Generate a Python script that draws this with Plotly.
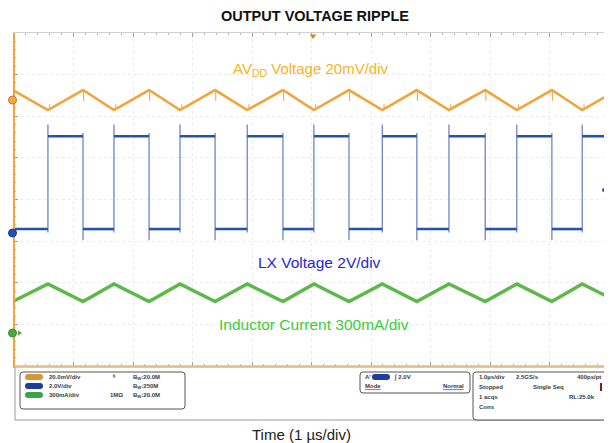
import plotly.graph_objects as go

# ---------------- data ----------------
# time in µs (1 µs/div, 10 divisions); vertical in divisions (0 = bottom, 8 = top)
t_rise = [0.57, 1.68, 2.79, 3.92, 5.04, 6.19, 7.31, 8.45, 9.55]   # LX rising edges
t_fall = [1.16, 2.27, 3.38, 4.52, 5.63, 6.77, 7.92, 9.04]         # LX falling edges
t_prev_fall = -0.02    # falling edge just before the screen start
t_next_fall = 10.14    # falling edge just after the screen end

lx_high, lx_low = 5.52, 3.29
lx_overshoot, lx_undershoot = 5.80, 3.02

avdd_peak, avdd_trough = 6.63, 6.15
avdd_glitch_fall, avdd_glitch_rise = -0.26, 0.14

il_peak, il_trough = 1.97, 1.55

# ---------------- helpers ----------------
OFF = 8                       # the page body margin that the figure sits inside
W, H = 612 - OFF, 443 - OFF
PL, PR, PT, PB = 14, 609, 33, 366      # plot area in page pixels


def fx(px):
    return (px - PL) / (PR - PL)


def fy(py):
    return (PB - py) / (PB - PT)


def dx(px):
    return (px - PL) / (PR - PL) * 10


def dy(py):
    return (PB - py) / (PB - PT) * 8


ORANGE = "#F2A43A"
BLUE = "#2452B2"
GREEN = "#5DB84A"
FONT = "Liberation Sans, Arial, sans-serif"

fig = go.Figure()

# ---------------- LX voltage ----------------
edges = sorted([(t, "r") for t in t_rise] + [(t, "f") for t in t_fall])
hx, hy = [0.0], [lx_low]
ex, ey = [], []
for t, kind in edges:
    if kind == "r":
        hx += [t, None, t]
        hy += [lx_low, None, lx_high]
        ex += [t, t, None]
        ey += [lx_low - 0.08, lx_overshoot, None]
    else:
        hx += [t, None, t]
        hy += [lx_high, None, lx_low]
        ex += [t, t, None]
        ey += [lx_high + 0.08, lx_undershoot, None]
hx.append(10.0)
hy.append(lx_high)
fig.add_trace(go.Scatter(x=ex, y=ey, mode="lines",
                         line=dict(color="#6f86c4", width=1.3), hoverinfo="skip"))
fig.add_trace(go.Scatter(x=hx, y=hy, mode="lines",
                         line=dict(color=BLUE, width=2.6), hoverinfo="skip"))

# ---------------- AVDD ripple ----------------
ox, oy = [t_prev_fall], [avdd_peak]
gx, gy = [], []
for t, kind in edges:
    ox.append(t)
    if kind == "r":
        oy.append(avdd_trough)
        gx += [t + 0.03, t + 0.03, None]
        gy += [avdd_trough + 0.02, avdd_trough + avdd_glitch_rise, None]
    else:
        oy.append(avdd_peak)
        gx += [t + 0.01, t + 0.01, None]
        gy += [avdd_peak, avdd_peak + avdd_glitch_fall, None]
ox.append(t_next_fall)
oy.append(avdd_peak)
fig.add_trace(go.Scatter(x=ox, y=oy, mode="lines",
                         line=dict(color=ORANGE, width=2.6), hoverinfo="skip"))
fig.add_trace(go.Scatter(x=gx, y=gy, mode="lines",
                         line=dict(color="#E9B35A", width=1.2), hoverinfo="skip"))

# ---------------- inductor current ----------------
ix, iy = [t_prev_fall], [il_trough]
for t, kind in edges:
    ix.append(t)
    iy.append(il_peak if kind == "r" else il_trough)
ix.append(t_next_fall)
iy.append(il_trough)
fig.add_trace(go.Scatter(x=ix, y=iy, mode="lines",
                         line=dict(color=GREEN, width=3.4), hoverinfo="skip"))

# ---------------- trigger markers ----------------
fig.add_trace(go.Scatter(x=[dx(313)], y=[dy(36)], mode="markers", cliponaxis=False,
                         marker=dict(size=6, color="#d08a2a", symbol="triangle-down"),
                         hoverinfo="skip"))
fig.add_trace(go.Scatter(x=[dx(604)], y=[dy(190)], mode="markers", cliponaxis=False,
                         marker=dict(size=4, color=BLUE), hoverinfo="skip"))

# ---------------- annotations ----------------
ann = []
ann.append(dict(text="<b>OUTPUT VOLTAGE RIPPLE</b>", x=fx(315), y=fy(16), xref="paper", yref="paper",
                xanchor="center", yanchor="middle",
                showarrow=False, font=dict(family=FONT, size=14.5, color="#111")))
ann.append(dict(text="AV<sub>DD</sub> Voltage 20mV/div", x=dx(310), y=dy(69), showarrow=False,
                font=dict(family=FONT, size=15, color="#F5B51E")))
ann.append(dict(text="LX Voltage 2V/div", x=dx(319), y=dy(262), showarrow=False,
                font=dict(family=FONT, size=15.5, color="#2626D8")))
ann.append(dict(text="Inductor Current 300mA/div", x=dx(314), y=dy(324), showarrow=False,
                font=dict(family=FONT, size=15.5, color="#3ACD3A")))
ann.append(dict(text="Time (1 µs/div)", x=fx(301), y=fy(434), xref="paper", yref="paper",
                xanchor="center", yanchor="middle",
                showarrow=False, font=dict(family=FONT, size=15, color="#222")))

small = dict(family=FONT, size=6, color="#3a3a3a")


def txt(s, px, py, anchor="left"):
    ann.append(dict(text=s, x=fx(px), y=fy(py), xref="paper", yref="paper", showarrow=False,
                    xanchor=anchor, yanchor="middle", font=small))


txt("<b>20.0mV/div</b>", 47, 377)
txt("<b>2.0V/div</b>", 47, 386)
txt("<b>300mA/div</b>", 47, 395)
txt("<b>ᵇ</b>", 111, 377)
txt("<b>1MΩ</b>", 108, 395)
txt("<b>B<sub>W</sub>:20.0M</b>", 131, 377)
txt("<b>B<sub>W</sub>:250M</b>", 131, 386)
txt("<b>B<sub>W</sub>:20.0M</b>", 131, 395)
txt("<b>A'</b>", 363, 377)
txt("<b>∫ 2.0V</b>", 392, 377)
txt("<b><u>Mode</u></b>", 363, 386)
txt("<b><u>Normal</u></b>", 466, 386, "right")
txt("<b>1.0µs/div</b>", 477, 377)
txt("<b>2.5GS/s</b>", 514, 377)
txt("<b>400ps/pt</b>", 603, 377, "right")
txt("<b>Stopped</b>", 477, 387)
txt("<b>Single Seq</b>", 531, 387)
txt("<b>1 acqs</b>", 477, 397)
txt("<b>RL:25.0k</b>", 597, 397, "right")
txt("<b>Cons</b>", 477, 407)


# ---------------- shapes ----------------
def rrect(x0, y0, x1, y1, r):
    X0, X1 = fx(x0), fx(x1)
    Y0, Y1 = fy(y0), fy(y1)
    rx = r / (PR - PL)
    ry = r / (PB - PT)
    return (f"M {X0 + rx} {Y0} L {X1 - rx} {Y0} Q {X1} {Y0} {X1} {Y0 - ry} "
            f"L {X1} {Y1 + ry} Q {X1} {Y1} {X1 - rx} {Y1} L {X0 + rx} {Y1} "
            f"Q {X0} {Y1} {X0} {Y1 + ry} L {X0} {Y0 - ry} Q {X0} {Y0} {X0 + rx} {Y0} Z")


def circ(cx, cy, r, col, edge):
    return dict(type="circle", xref="paper", yref="paper",
                x0=fx(cx - r), x1=fx(cx + r), y0=fy(cy + r), y1=fy(cy - r),
                line=dict(color=edge, width=1), fillcolor=col)


shapes = []
# outer info panel
shapes.append(dict(type="rect", xref="paper", yref="paper", x0=fx(15), x1=fx(609), y0=fy(367), y1=fy(420),
                   line=dict(color="#9a9a9a", width=1), fillcolor="white", layer="below"))
# channel box, trigger box, acquisition box
for (a, b, c, d) in [(20, 372, 185, 409), (360, 372, 470, 393), (473, 372, 608, 420)]:
    shapes.append(dict(type="path", xref="paper", yref="paper", path=rrect(a, b, c, d, 3),
                       line=dict(color="#555", width=1), fillcolor="white"))
# channel pills
for (py, col) in [(377, "#D9953A"), (386, "#1E3E9E"), (395, "#3DA34A")]:
    shapes.append(dict(type="path", xref="paper", yref="paper", path=rrect(25, py - 3, 43, py + 3, 3),
                       line=dict(color=col, width=0), fillcolor=col))
shapes.append(dict(type="path", xref="paper", yref="paper", path=rrect(372, 374, 390, 380, 3),
                   line=dict(color="#1E3E9E", width=0), fillcolor="#1E3E9E"))
# red indicator in acquisition box
shapes.append(dict(type="rect", xref="paper", yref="paper", x0=fx(600), x1=fx(602), y0=fy(391), y1=fy(383),
                   line=dict(width=0), fillcolor="#8a1a1a"))
# orange left and bottom screen borders
shapes.append(dict(type="line", xref="paper", yref="paper", x0=0, x1=0, y0=-0.005, y1=1.0,
                   line=dict(color="#F2A43A", width=2)))
shapes.append(dict(type="line", xref="paper", yref="paper", x0=0, x1=1, y0=0, y1=0,
                   line=dict(color="#EDB878", width=1.5)))
# channel ground markers on the left edge
shapes.append(circ(12.5, 100, 4, "#F0A848", "#c07a22"))
shapes.append(circ(12.5, 233, 4, "#2350B0", "#1a3c8a"))
shapes.append(circ(12.5, 333, 4, "#4FA83E", "#3d8a30"))
shapes.append(dict(type="path", xref="paper", yref="paper",
                   path=f"M {fx(18)} {fy(330.5)} L {fx(22)} {fy(333)} L {fx(18)} {fy(335.5)} Z",
                   line=dict(color="#4FA83E", width=0), fillcolor="#4FA83E"))

axis_common = dict(showgrid=True, gridcolor="#ececec", griddash="dot", gridwidth=1,
                   showticklabels=False, ticks="inside", ticklen=4, tickcolor="#a0a0a0",
                   showline=True, linecolor="#cfcfcf", mirror="ticks", zeroline=False,
                   fixedrange=True,
                   minor=dict(ticks="inside", ticklen=2, tickcolor="#b8b8b8", showgrid=False, dtick=0.2))

fig.update_layout(
    width=W, height=H,
    margin=dict(l=PL - OFF, r=612 - PR, t=PT - OFF, b=443 - PB, autoexpand=False),
    paper_bgcolor="white", plot_bgcolor="white",
    showlegend=False,
    xaxis=dict(range=[0, 10], dtick=1, **axis_common),
    yaxis=dict(range=[0, 8], dtick=1, **axis_common),
    annotations=ann,
    shapes=shapes,
)

fig.write_html("out.html")
